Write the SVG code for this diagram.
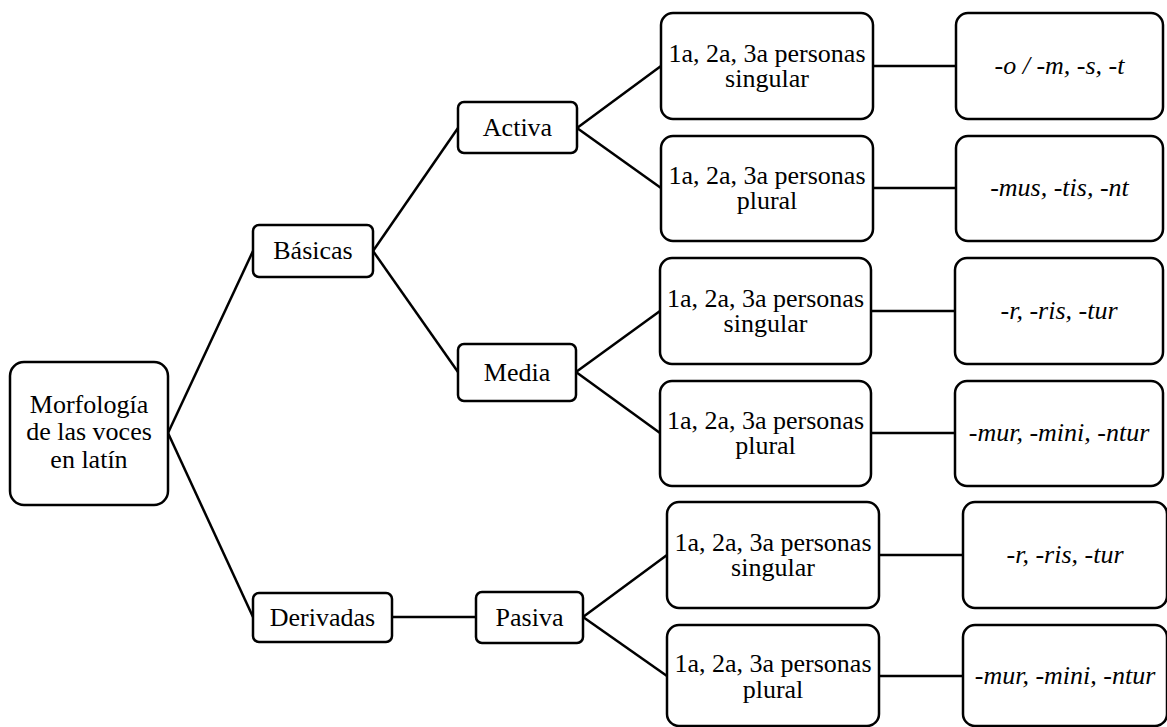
<svg xmlns="http://www.w3.org/2000/svg" width="1167" height="727" viewBox="0 0 1167 727">
<style>
.box{fill:#fff;stroke:#000;stroke-width:2.5}
text{font-family:'Liberation Serif',serif;font-size:26px;fill:#000;text-anchor:middle}
.i{font-style:italic}
.c{stroke:#000;stroke-width:2.5;fill:none}
</style>
<rect width="1167" height="727" fill="#fff"/>
<g id="connectors">
<line class="c" x1="168" y1="433" x2="253" y2="251"/>
<line class="c" x1="168" y1="433" x2="253" y2="617"/>
<line class="c" x1="373" y1="251" x2="458" y2="128"/>
<line class="c" x1="373" y1="251" x2="458" y2="372"/>
<line class="c" x1="392" y1="617" x2="476" y2="617"/>
<line class="c" x1="577" y1="128" x2="661" y2="66"/>
<line class="c" x1="577" y1="128" x2="661" y2="188"/>
<line class="c" x1="576" y1="372" x2="660" y2="311"/>
<line class="c" x1="576" y1="372" x2="660" y2="433"/>
<line class="c" x1="583" y1="617" x2="667" y2="555"/>
<line class="c" x1="583" y1="617" x2="667" y2="676"/>
<line class="c" x1="873" y1="66" x2="956" y2="66"/>
<line class="c" x1="873" y1="188" x2="956" y2="188"/>
<line class="c" x1="871" y1="311" x2="955" y2="311"/>
<line class="c" x1="871" y1="433" x2="955" y2="433"/>
<line class="c" x1="879" y1="555" x2="963" y2="555"/>
<line class="c" x1="879" y1="676" x2="963" y2="676"/>
</g>
<g id="root">
<rect class="box" x="10" y="362" width="158" height="143" rx="14"/>
<text x="89" y="413">Morfología</text>
<text x="89" y="440">de las voces</text>
<text x="89" y="468">en latín</text>
</g>
<g id="basicas">
<rect class="box" x="253" y="225" width="120" height="52" rx="6"/>
<text x="313" y="259">Básicas</text>
</g>
<g id="derivadas">
<rect class="box" x="253" y="593" width="139" height="49" rx="6"/>
<text x="322.5" y="626">Derivadas</text>
</g>
<g id="activa">
<rect class="box" x="458" y="102" width="119" height="51" rx="6"/>
<text x="517.5" y="136">Activa</text>
</g>
<g id="media">
<rect class="box" x="458" y="344" width="118" height="57" rx="6"/>
<text x="517" y="381">Media</text>
</g>
<g id="pasiva">
<rect class="box" x="476" y="592" width="107" height="51" rx="6"/>
<text x="529.5" y="626">Pasiva</text>
</g>
<g id="act-sg">
<rect class="box" x="661" y="13" width="212" height="106" rx="12"/>
<text x="767" y="62">1a, 2a, 3a personas</text>
<text x="767" y="87">singular</text>
</g>
<g id="act-pl">
<rect class="box" x="661" y="136" width="212" height="105" rx="12"/>
<text x="767" y="184">1a, 2a, 3a personas</text>
<text x="767" y="209">plural</text>
</g>
<g id="med-sg">
<rect class="box" x="660" y="258" width="211" height="106" rx="12"/>
<text x="765.5" y="307">1a, 2a, 3a personas</text>
<text x="765.5" y="332">singular</text>
</g>
<g id="med-pl">
<rect class="box" x="660" y="381" width="211" height="105" rx="12"/>
<text x="765.5" y="429">1a, 2a, 3a personas</text>
<text x="765.5" y="454">plural</text>
</g>
<g id="pas-sg">
<rect class="box" x="667" y="502" width="212" height="106" rx="12"/>
<text x="773" y="551">1a, 2a, 3a personas</text>
<text x="773" y="576">singular</text>
</g>
<g id="pas-pl">
<rect class="box" x="667" y="625" width="212" height="101" rx="12"/>
<text x="773" y="672">1a, 2a, 3a personas</text>
<text x="773" y="698">plural</text>
</g>
<g id="end-act-sg">
<rect class="box" x="956" y="13" width="207" height="106" rx="12"/>
<text class="i" x="1059.5" y="74">-o / -m, -s, -t</text>
</g>
<g id="end-act-pl">
<rect class="box" x="956" y="136" width="207" height="105" rx="12"/>
<text class="i" x="1059.5" y="196">-mus, -tis, -nt</text>
</g>
<g id="end-med-sg">
<rect class="box" x="955" y="258" width="208" height="106" rx="12"/>
<text class="i" x="1059" y="319">-r, -ris, -tur</text>
</g>
<g id="end-med-pl">
<rect class="box" x="955" y="381" width="208" height="105" rx="12"/>
<text class="i" x="1059" y="441">-mur, -mini, -ntur</text>
</g>
<g id="end-pas-sg">
<rect class="box" x="963" y="502" width="204" height="106" rx="12"/>
<text class="i" x="1065" y="563">-r, -ris, -tur</text>
</g>
<g id="end-pas-pl">
<rect class="box" x="963" y="625" width="204" height="101" rx="12"/>
<text class="i" x="1065" y="684">-mur, -mini, -ntur</text>
</g>
</svg>
